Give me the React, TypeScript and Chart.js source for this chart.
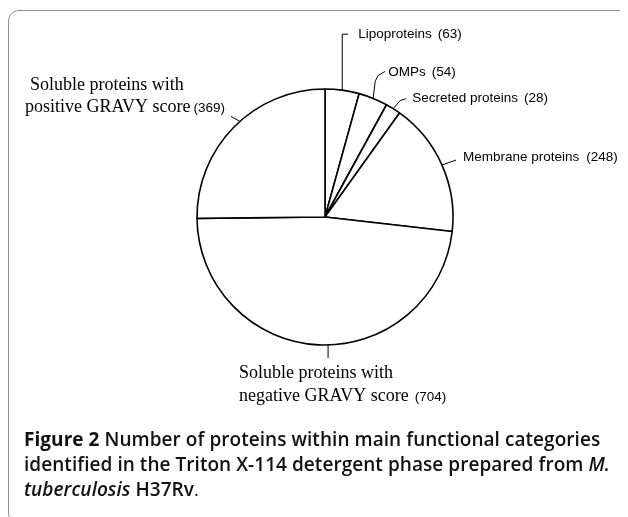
import React, { useEffect, useRef } from "react";
import { Chart, registerables } from "chart.js";

Chart.register(...registerables);

// ---- data ----
const categories = [
  "Lipoproteins",
  "OMPs",
  "Secreted proteins",
  "Membrane proteins",
  "Soluble proteins with negative GRAVY score",
  "Soluble proteins with positive GRAVY score",
];
const counts = [63, 54, 28, 248, 704, 369];
const labelLines = [
  ["Lipoproteins"],
  ["OMPs"],
  ["Secreted proteins"],
  ["Membrane proteins"],
  ["Soluble proteins with", "negative GRAVY score"],
  ["Soluble proteins with", "positive GRAVY score"],
];

// ---- label layout (relative to the slice's anchor point on the arc) ----
const SANS = "13.5px 'Liberation Sans', Arial, sans-serif";
const SERIF = "18px 'Liberation Serif', 'Times New Roman', serif";
type Spec = {
  frac: number;
  path: [number, number][];
  tx: number[];
  ty: number[];
  font: string;
  numGap: number;
};
const LAYOUT: Spec[] = [
  { frac: 0.5, path: [[0, -56], [6, -56]], tx: [16], ty: [-56], font: SANS, numGap: 6 },
  { frac: 0.5, path: [[2, -17], [5, -23], [12, -27]], tx: [15], ty: [-26], font: SANS, numGap: 6 },
  { frac: 0.5, path: [[7, -8], [13, -10]], tx: [19], ty: [-10], font: SANS, numGap: 6 },
  { frac: 0.5, path: [[14, -5]], tx: [21], ty: [-8], font: SANS, numGap: 7 },
  { frac: 0.475, path: [[0, 13]], tx: [-89, -89], ty: [28, 51], font: SERIF, numGap: 6 },
  { frac: 0.54, path: [[-9, -5]], tx: [-210, -215], ty: [-36, -14], font: SERIF, numGap: 3 },
];

const pieLabels = {
  id: "pieLabels",
  afterDraw(chart: any) {
    const ctx = chart.ctx as CanvasRenderingContext2D;
    const meta = chart.getDatasetMeta(0);
    meta.data.forEach((arc: any, i: number) => {
      const { x, y, startAngle, endAngle, outerRadius } = arc.getProps(
        ["x", "y", "startAngle", "endAngle", "outerRadius"],
        true
      );
      const spec = LAYOUT[i];
      const a = startAngle + (endAngle - startAngle) * spec.frac;
      const ax = x + Math.cos(a) * outerRadius;
      const ay = y + Math.sin(a) * outerRadius;
      ctx.save();
      ctx.strokeStyle = "#000";
      ctx.lineWidth = 1;
      ctx.beginPath();
      ctx.moveTo(ax, ay);
      spec.path.forEach(([dx, dy]) => ctx.lineTo(ax + dx, ay + dy));
      ctx.stroke();
      ctx.fillStyle = "#000";
      ctx.textBaseline = "middle";
      ctx.textAlign = "left";
      const lines = labelLines[i];
      let endX = 0;
      let lastY = 0;
      lines.forEach((ln, k) => {
        ctx.font = spec.font;
        const lx = ax + spec.tx[k];
        const ly = ay + spec.ty[k];
        ctx.fillText(ln, lx, ly);
        endX = lx + ctx.measureText(ln).width;
        lastY = ly;
      });
      ctx.font = SANS;
      ctx.fillText("(" + counts[i] + ")", endX + spec.numGap, lastY + (spec.font === SERIF ? 1 : 0));
      ctx.restore();
    });
  },
};

export default function App() {
  const ref = useRef<HTMLCanvasElement | null>(null);
  useEffect(() => {
    if (!ref.current) return;
    const chart = new Chart(ref.current, {
      type: "pie",
      data: {
        labels: categories,
        datasets: [
          {
            data: counts,
            backgroundColor: "#ffffff",
            borderColor: "#000000",
            borderWidth: 1.6,
            radius: 128,
            hoverOffset: 0,
          } as any,
        ],
      },
      options: {
        responsive: false,
        animation: false,
        layout: { padding: { left: 22, right: 0, top: 0, bottom: 2 } },
        plugins: {
          legend: { display: false },
          tooltip: { enabled: false },
          title: { display: false },
        },
        events: [],
      },
      plugins: [pieLabels],
    });
    return () => chart.destroy();
  }, []);

  const capFont = "'Open Sans', 'Noto Sans', sans-serif";
  return (
    <div style={{ position: "relative", width: 620, height: 509, overflow: "hidden" }}>
      <div
        style={{
          position: "absolute",
          left: 0,
          top: 2,
          width: 624,
          height: 514,
          boxSizing: "border-box",
          border: "1.5px solid #8f8f8f",
          borderRadius: 11,
        }}
      />
      <canvas
        ref={ref}
        width={612}
        height={420}
        style={{ position: "absolute", left: 0, top: 0, width: 612, height: 420 }}
      />
      <div
        style={{
          position: "absolute",
          left: 16,
          top: 419,
          width: 610,
          fontFamily: capFont,
          fontSize: 19,
          lineHeight: "25px",
          fontWeight: 600,
          color: "#111",
          whiteSpace: "nowrap",
          letterSpacing: "0.05px",
        }}
      >
        <div>
          <span style={{ fontWeight: 700 }}>Figure 2</span> Number of proteins within main functional categories
        </div>
        <div>
          identified in the Triton X-114 detergent phase prepared from <i>M.</i>
        </div>
        <div>
          <i>tuberculosis</i> H37Rv<span style={{ fontWeight: 400 }}>.</span>
        </div>
      </div>
    </div>
  );
}
